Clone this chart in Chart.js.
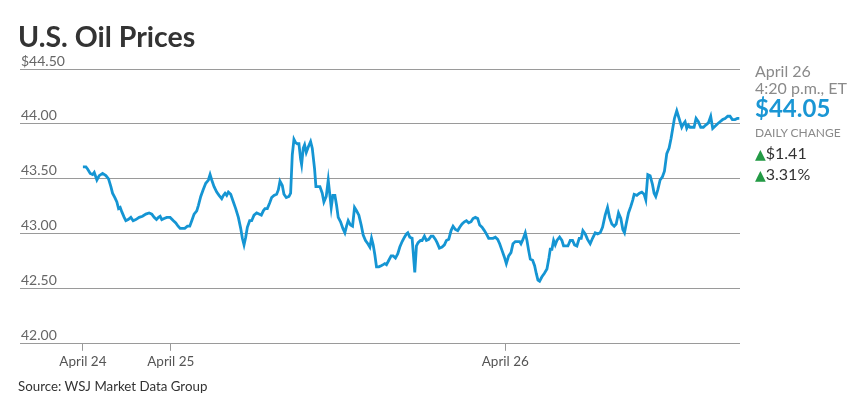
<!DOCTYPE html>
<html>
<head>
<meta charset="utf-8">
<script src="https://cdn.jsdelivr.net/npm/chart.js@4.4.0/dist/chart.umd.min.js"></script>
<style>
  body { margin: 0; background: #fff; font-family: Lato, sans-serif; }
  #wrap { position: relative; width: 867px; height: 416px; overflow: hidden; }
  #chart { position: absolute; left: 0; top: 0; }
  .t { position: absolute; left: 755px; line-height: 1.2; white-space: nowrap; }
  .title { left: 18px; top: 19px; font-size: 28.5px; font-weight: 700; color: #333; }
  .src { left: 18px; top: 379px; font-size: 13.3px; color: #333; }
  .gray { color: #8a8a8a; font-size: 16px; }
  .big { font-size: 24px; font-weight: 700; color: #1a96d4; }
  .cap { font-size: 12px; color: #8a8a8a; }
  .chg { font-size: 16px; color: #333; }
  .up { color: #239a45; font-family: "DejaVu Sans", sans-serif; font-size: 14px; }
</style>
</head>
<body>
<div id="wrap">
  <canvas id="chart" width="867" height="416"></canvas>
  <div class="t title">U.S. Oil Prices</div>
  <div class="t gray" style="top:61px">April 26</div>
  <div class="t gray" style="top:78px">4:20 p.m., ET</div>
  <div class="t big" style="top:94px">$44.05</div>
  <div class="t cap" style="top:126px">DAILY CHANGE</div>
  <div class="t chg" style="top:143px"><span class="up">▲</span>$1.41</div>
  <div class="t chg" style="top:164px"><span class="up">▲</span>3.31%</div>
  <div class="t src">Source: WSJ Market Data Group</div>
</div>
<script>
// session minutes from the April 24 marker, and the price at each one
const minutes = [
  0, 9, 14, 22, 29, 34, 42, 49, 59, 69, 77, 84, 89, 96, 102, 107, 112, 117, 124, 129,
  136, 144, 151, 159, 169, 179, 189, 199, 207, 214, 221, 227, 232, 237, 244, 252, 262, 272, 279, 286,
  292, 299, 306, 314, 321, 327, 334, 342, 347, 354, 361, 369, 377, 382, 387, 394, 402, 409, 417, 422,
  427, 432, 437, 444, 452, 459, 467, 474, 479, 484, 489, 494, 501, 507, 514, 522, 529, 536, 542, 547,
  554, 561, 567, 574, 582, 587, 592, 599, 604, 611, 619, 624, 629, 634, 639, 644, 649, 654, 657, 662,
  666, 671, 677, 684, 689, 696, 700, 707, 712, 719, 724, 731, 737, 742, 746, 751, 757, 762, 767, 774,
  781, 787, 792, 797, 804, 810, 816, 822, 829, 836, 842, 849, 856, 862, 867, 872, 877, 882, 889, 896,
  902, 907, 912, 919, 926, 932, 939, 946, 952, 959, 966, 972, 976, 982, 989, 997, 1002, 1007, 1014, 1019,
  1026, 1032, 1039, 1046, 1052, 1059, 1064, 1071, 1079, 1086, 1092, 1099, 1106, 1112, 1119, 1126, 1132, 1139, 1146, 1152,
  1159, 1166, 1172, 1179, 1186, 1192, 1199, 1206, 1212, 1219, 1226, 1232, 1239, 1246, 1252, 1259, 1266, 1272, 1279, 1286,
  1292, 1299, 1306, 1312, 1316, 1322, 1329, 1334, 1339, 1344, 1351, 1357, 1362, 1367, 1372, 1379, 1386, 1394, 1400, 1404,
  1409, 1414, 1419, 1424, 1432, 1439, 1444, 1451, 1457, 1464, 1471, 1477, 1484, 1491, 1497, 1502, 1509, 1516, 1524, 1531,
  1539, 1546, 1554, 1561, 1569, 1576, 1582, 1589, 1596, 1602, 1609, 1616, 1622, 1627, 1632, 1639, 1646, 1652, 1656, 1664,
  1672, 1679, 1686, 1691, 1697, 1704, 1711, 1716, 1721, 1727, 1734, 1741, 1747, 1754, 1761, 1767, 1772, 1777, 1784, 1789,
  1794, 1799, 1804, 1809, 1814, 1819, 1824, 1829, 1836, 1842, 1849, 1856, 1864, 1871, 1879, 1886, 1892, 1899, 1906, 1914,
  1922, 1929, 1937, 1944, 1951, 1959, 1966, 1972
];
const prices = [
  43.61, 43.61, 43.59, 43.55, 43.54, 43.56, 43.49, 43.53, 43.55, 43.53, 43.50, 43.43, 43.37, 43.33, 43.29, 43.23, 43.24, 43.20, 43.15, 43.12,
  43.13, 43.15, 43.12, 43.13, 43.15, 43.16, 43.18, 43.19, 43.18, 43.15, 43.13, 43.15, 43.16, 43.13, 43.14, 43.15, 43.15, 43.12, 43.10, 43.07,
  43.05, 43.05, 43.05, 43.07, 43.07, 43.12, 43.18, 43.21, 43.26, 43.34, 43.40, 43.46, 43.49, 43.54, 43.49, 43.43, 43.38, 43.35, 43.32, 43.35,
  43.37, 43.35, 43.38, 43.36, 43.29, 43.23, 43.15, 43.05, 42.96, 42.90, 42.97, 43.06, 43.12, 43.12, 43.17, 43.19, 43.18, 43.17, 43.21, 43.23,
  43.23, 43.28, 43.33, 43.35, 43.36, 43.40, 43.48, 43.44, 43.36, 43.33, 43.34, 43.37, 43.72, 43.86, 43.83, 43.82, 43.82, 43.68, 43.63, 43.78,
  43.81, 43.74, 43.79, 43.84, 43.78, 43.59, 43.43, 43.43, 43.43, 43.37, 43.29, 43.34, 43.49, 43.35, 43.24, 43.35, 43.35, 43.26, 43.15, 43.11,
  43.05, 43.01, 43.07, 43.12, 43.08, 43.07, 43.24, 43.21, 43.17, 43.08, 42.99, 42.94, 42.91, 42.88, 42.96, 42.90, 42.81, 42.70, 42.70, 42.71,
  42.72, 42.73, 42.72, 42.76, 42.80, 42.80, 42.78, 42.82, 42.88, 42.93, 42.97, 43.00, 43.01, 42.97, 42.96, 42.65, 42.89, 42.92, 42.94, 42.94,
  42.98, 42.94, 42.95, 42.98, 42.98, 42.95, 42.92, 42.87, 42.88, 42.90, 42.94, 42.95, 43.03, 43.07, 43.04, 43.03, 43.06, 43.09, 43.11, 43.12,
  43.10, 43.11, 43.14, 43.15, 43.14, 43.08, 43.06, 43.03, 43.00, 42.96, 42.96, 42.96, 42.97, 42.95, 42.91, 42.85, 42.79, 42.73, 42.80, 42.83,
  42.91, 42.93, 42.93, 42.93, 42.91, 42.95, 43.01, 42.94, 42.85, 42.77, 42.76, 42.71, 42.64, 42.58, 42.57, 42.61, 42.64, 42.68, 42.78, 42.86,
  42.86, 42.94, 42.90, 42.94, 42.97, 42.94, 42.89, 42.89, 42.89, 42.94, 42.94, 42.90, 42.89, 42.96, 42.96, 43.03, 43.00, 42.95, 42.91, 42.96,
  43.01, 43.00, 43.01, 43.06, 43.17, 43.24, 43.15, 43.09, 43.07, 43.09, 43.19, 43.14, 43.04, 43.01, 43.09, 43.19, 43.25, 43.31, 43.36, 43.35,
  43.37, 43.38, 43.36, 43.31, 43.54, 43.53, 43.45, 43.37, 43.34, 43.40, 43.49, 43.52, 43.57, 43.73, 43.78, 43.87, 43.96, 44.05, 44.12, 44.07,
  44.02, 43.97, 44.00, 44.02, 43.96, 43.99, 43.97, 43.97, 43.97, 44.05, 44.02, 43.97, 43.97, 43.99, 44.01, 44.07, 43.96, 43.98, 44.00, 44.02,
  44.04, 44.05, 44.07, 44.07, 44.04, 44.04, 44.05, 44.05
];
const tickMinutes = [0, 264, 1269];
const tickLabels = ['April 24', 'April 25', 'April 26'];
const priceTicks = [42, 42.5, 43, 43.5, 44, 44.5];

new Chart(document.getElementById('chart'), {
  type: 'line',
  data: {
    datasets: [{
      data: minutes.map((m, i) => ({ x: m, y: prices[i] })),
      borderColor: '#1595d3',
      borderWidth: 2.8,
      pointRadius: 0,
      tension: 0,
      fill: false
    }]
  },
  options: {
    responsive: false,
    animation: false,
    layout: { padding: { left: 18, right: 127, top: 69, bottom: 43 } },
    plugins: { legend: { display: false }, tooltip: { enabled: false } },
    scales: {
      x: {
        type: 'linear', min: -189, max: 1974,
        afterBuildTicks: s => { s.ticks = tickMinutes.map(v => ({ value: v })); },
        grid: { drawOnChartArea: false, drawTicks: true, tickLength: 7, color: '#999' },
        border: { display: false },
        ticks: {
          padding: 3, color: '#555', maxRotation: 0, autoSkip: false,
          font: { family: 'Lato', size: 13.5 },
          callback: (v, i) => tickLabels[i]
        }
      },
      y: {
        min: 42, max: 44.5,
        afterBuildTicks: s => { s.ticks = priceTicks.map(v => ({ value: v })); },
        grid: { drawTicks: false, color: '#9a9a9a' },
        border: { display: false },
        ticks: {
          mirror: true, padding: 1, labelOffset: -8, color: '#666',
          font: { family: 'Lato', size: 14 },
          callback: v => (v === 44.5 ? '$' : '') + v.toFixed(2)
        }
      }
    }
  }
});
</script>
</body>
</html>
